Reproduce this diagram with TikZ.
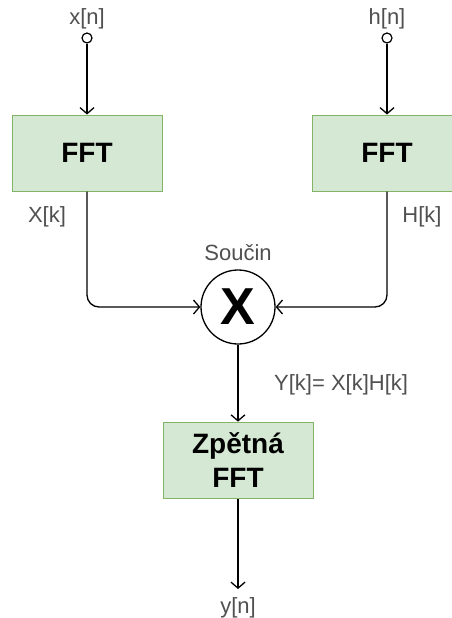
\documentclass[tikz,border=0pt]{standalone}
\usepackage{fontspec}
\setmainfont{Liberation Sans}
\usetikzlibrary{arrows.meta, positioning, calc}
\definecolor{boxgreen}{RGB}{213,232,212}
\definecolor{edgegreen}{RGB}{130,179,102}
\definecolor{labelgray}{RGB}{80,80,80}
\tikzset{
  fftbox/.style={draw=edgegreen, fill=boxgreen, line width=1pt, minimum width=150pt, minimum height=76pt, font=\fontsize{28}{34}\selectfont\bfseries, align=center, inner sep=0pt},
  sig/.style={font=\fontsize{22}{26}\selectfont, text=labelgray, inner sep=0pt},
  pin/.style={circle, draw, fill=white, line width=1.2pt, minimum size=10pt, inner sep=0pt},
  multnode/.style={circle, draw, line width=1.3pt, minimum size=74pt, inner sep=0pt, font=\fontsize{52}{52}\selectfont\bfseries},
  sarrow/.style={-{Straight Barb[length=6pt,width=14pt]}, line width=1.3pt},
}
\begin{document}
\begin{tikzpicture}[x=1pt, y=-1pt]
  \useasboundingbox (0,0) rectangle (451,618);
  \node[fftbox] (fftx) at (87,153) {FFT};
  \node[fftbox] (ffth) at (387,153) {FFT};
  \node[pin] (xin) at (87,38) {};
  \node[pin] (hin) at (387,38) {};
  \node[sig, above=3pt of xin] (xlab) {x[n]};
  \node[sig, above=3pt of hin] (hlab) {h[n]};
  \node[sig] (xklab) at (47,217) {X[k]};
  \node[sig] (hklab) at (422,217) {H[k]};
  \node[multnode] (mult) at (238,307) {X};
  \node[sig, above=8pt of mult] (prodlab) {Součin};
  \node[fftbox, below=77pt of mult] (ifft) {Zpětná\\FFT};
  \node[sig, anchor=west] (yklab) at (274,385) {Y[k]= X[k]H[k]};
  \coordinate (yout) at (238,589);
  \node[sig] (ylab) at (238,608) {y[n]};
  \draw[sarrow] (xin) -- (fftx);
  \draw[sarrow] (hin) -- (ffth);
  \draw[sarrow, rounded corners=12pt] (fftx.south) |- (mult.west);
  \draw[sarrow, rounded corners=12pt] (ffth.south) |- (mult.east);
  \draw[sarrow] (mult) -- (ifft);
  \draw[sarrow] (ifft) -- (yout);
\end{tikzpicture}
\end{document}
